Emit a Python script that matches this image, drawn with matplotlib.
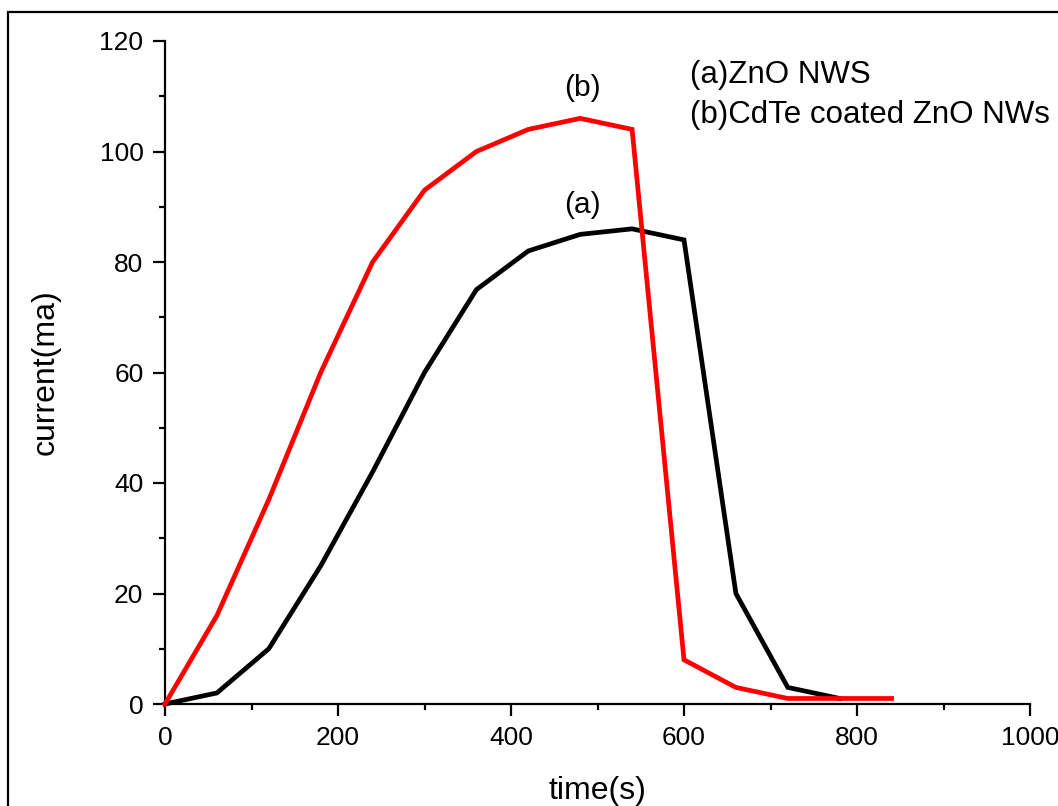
import matplotlib
matplotlib.use("Agg")
import matplotlib.pyplot as plt
from matplotlib.patches import Rectangle
from matplotlib.ticker import MultipleLocator

time_s = [0, 60, 120, 180, 240, 300, 360, 420, 480, 540, 600, 660, 720, 780]
zno = [0, 2, 10, 25, 42, 60, 75, 82, 85, 86, 84, 20, 3, 1]
time_b = [0, 60, 120, 180, 240, 300, 360, 420, 480, 540, 600, 660, 720, 780, 840]
cdte = [0, 16, 37, 60, 80, 93, 100, 104, 106, 104, 8, 3, 1, 1, 1]

plt.rcParams['font.family'] = ['Liberation Sans', 'DejaVu Sans']

fig = plt.figure(figsize=(10.58, 8.06), dpi=100)
ax = fig.add_axes([165/1058, 1-704/806, (1030-165)/1058, (704-41)/806])

ax.plot(time_s, zno, color='black', lw=3.4, solid_joinstyle='miter', clip_on=False, zorder=3)
ax.plot(time_b, cdte, color='#ff0000', lw=3.4, solid_joinstyle='miter', clip_on=False, zorder=4)

ax.set_xlim(0, 1000)
ax.set_ylim(0, 120)
ax.xaxis.set_major_locator(MultipleLocator(200))
ax.xaxis.set_minor_locator(MultipleLocator(100))
ax.yaxis.set_major_locator(MultipleLocator(20))
ax.yaxis.set_minor_locator(MultipleLocator(10))
for s in ['top', 'right']:
    ax.spines[s].set_visible(False)
for s in ['left', 'bottom']:
    ax.spines[s].set_linewidth(1.6)
ax.tick_params(which='major', direction='out', length=8.5, width=1.6, labelsize=19, pad=7)
ax.tick_params(which='minor', direction='out', length=4, width=1.6)

ax.set_xlabel('time(s)', fontsize=23, labelpad=19)
ax.set_ylabel('current(ma)', fontsize=23, labelpad=28)

ax.text(483, 111.5, '(b)', fontsize=21.5, ha='center', va='center')
ax.text(483, 90.3, '(a)', fontsize=21.5, ha='center', va='center')
ax.text(607, 113.8, '(a)ZnO NWS', fontsize=22.5, ha='left', va='center', clip_on=False)
ax.text(607, 106.6, '(b)CdTe coated ZnO NWs', fontsize=22.5, ha='left', va='center', clip_on=False)

fig.patches.append(Rectangle((8/1058, -0.2), 1.2, 0.2 + 1 - 12/806, transform=fig.transFigure,
                             fill=False, edgecolor='black', lw=1.6, clip_on=False))

fig.savefig('out.png', dpi=100)
